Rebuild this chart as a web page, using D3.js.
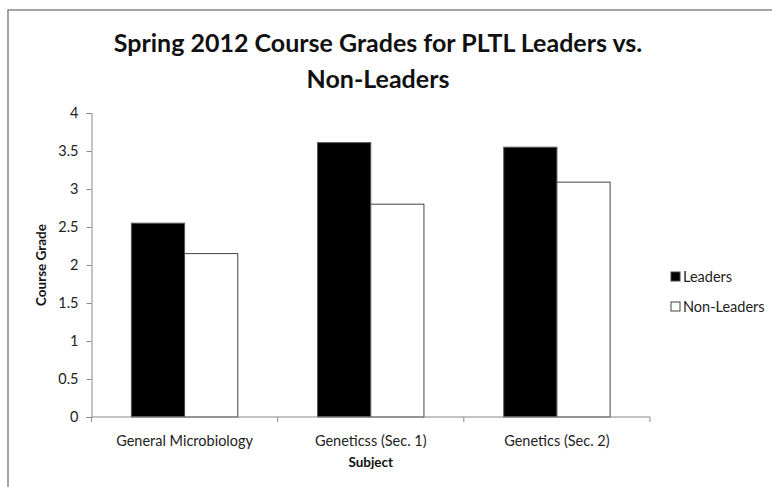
<!DOCTYPE html>
<html>
<head>
<meta charset="utf-8">
<script src="https://cdn.jsdelivr.net/npm/d3@7"></script>
<style>
  body { margin: 0; background: #fff; }
  svg { display: block; font-family: Lato, "Open Sans", sans-serif; overflow: hidden; }
  .axis path, .axis line { stroke: #888; }
</style>
</head>
<body>
<div id="chart"></div>
<script>
const subjects = ["General Microbiology", "Geneticss (Sec. 1)", "Genetics (Sec. 2)"];
const seriesNames = ["Leaders", "Non-Leaders"];
const leaders = [2.55, 3.61, 3.55];
const nonLeaders = [2.15, 2.80, 3.09];
const yTicks = [0, 0.5, 1, 1.5, 2, 2.5, 3, 3.5, 4];

const width = 772, height = 487;
const margin = { top: 113, right: 122, bottom: 70, left: 91.5 };
const innerWidth = width - margin.left - margin.right;
const innerHeight = height - margin.top - margin.bottom;

const svg = d3.select("#chart").append("svg")
    .attr("width", width)
    .attr("height", height);

// chart area border (right and bottom edges fall outside the picture)
svg.append("path")
    .attr("d", `M8,${height}V10H${width}`)
    .attr("fill", "none")
    .attr("stroke", "#888")
    .attr("stroke-width", 1.5);

const g = svg.append("g")
    .attr("transform", `translate(${margin.left}, ${margin.top})`);

const x0 = d3.scaleBand().domain(subjects).range([0, innerWidth]);
// gap width 150%: category = 3.5 bar widths
const x1 = d3.scaleBand().domain(seriesNames)
    .range([x0.bandwidth() * 0.75 / 3.5, x0.bandwidth() * 2.75 / 3.5]);
const y = d3.scaleLinear().domain([0, 4]).range([innerHeight, 0]);

const data = subjects.map((s, i) => ({ subject: s, values: [leaders[i], nonLeaders[i]] }));
const fills = ["#000", "#fff"];
const strokes = ["#555", "#444"];

const groups = g.selectAll(".group")
    .data(data).enter().append("g")
    .attr("transform", d => `translate(${x0(d.subject)}, 0)`);

groups.selectAll("rect")
    .data(d => d.values.map((v, k) => ({ key: seriesNames[k], v, k })))
    .enter().append("rect")
    .attr("x", d => x1(d.key))
    .attr("y", d => y(d.v))
    .attr("width", x1.bandwidth())
    .attr("height", d => innerHeight - y(d.v))
    .attr("fill", d => fills[d.k])
    .attr("stroke", d => strokes[d.k])
    .attr("stroke-width", 1);

// y axis
const yAxis = g.append("g").attr("class", "axis")
    .call(d3.axisLeft(y).tickValues(yTicks).tickSize(5).tickPadding(8).tickSizeOuter(5)
        .tickFormat(d3.format("")));
yAxis.attr("font-family", null).attr("font-size", 14.5);
yAxis.selectAll("text").attr("fill", "#222");

// x axis with ticks at category boundaries
const xAxis = g.append("g").attr("class", "axis")
    .attr("transform", `translate(0, ${innerHeight})`)
    .call(d3.axisBottom(x0).tickSize(0).tickPadding(19));
xAxis.attr("font-family", null).attr("font-size", 14.5);
xAxis.selectAll("text").attr("fill", "#222");
xAxis.select(".domain").attr("d", `M0,0H${innerWidth}`);
xAxis.selectAll(".boundary")
    .data(d3.range(subjects.length + 1)).enter().append("line")
    .attr("x1", i => i * x0.step()).attr("x2", i => i * x0.step())
    .attr("y1", 0).attr("y2", 5)
    .attr("stroke", "#888");

// title
const title = svg.append("text")
    .attr("text-anchor", "middle")
    .attr("font-weight", "bold")
    .attr("font-size", 25)
    .attr("fill", "#111");
title.append("tspan").attr("x", 378).attr("y", 52).text("Spring 2012 Course Grades for PLTL Leaders vs.");
title.append("tspan").attr("x", 378).attr("y", 88).text("Non-Leaders");

// axis titles
svg.append("text")
    .attr("transform", `translate(46, ${margin.top + innerHeight / 2}) rotate(-90)`)
    .attr("text-anchor", "middle")
    .attr("font-weight", "bold")
    .attr("font-size", 13.5)
    .attr("fill", "#111")
    .text("Course Grade");

svg.append("text")
    .attr("x", margin.left + innerWidth / 2)
    .attr("y", 467)
    .attr("text-anchor", "middle")
    .attr("font-weight", "bold")
    .attr("font-size", 13.5)
    .attr("fill", "#111")
    .text("Subject");

// legend
const legend = svg.append("g").attr("transform", "translate(671, 272)");
const item = legend.selectAll(".item")
    .data(seriesNames).enter().append("g")
    .attr("transform", (d, i) => `translate(0, ${i * 30})`);
item.append("rect")
    .attr("width", 9).attr("height", 9)
    .attr("fill", (d, i) => fills[i])
    .attr("stroke", "#444");
item.append("text")
    .attr("x", 12).attr("y", 10)
    .attr("font-size", 14.5)
    .attr("fill", "#222")
    .text(d => d);
</script>
</body>
</html>
